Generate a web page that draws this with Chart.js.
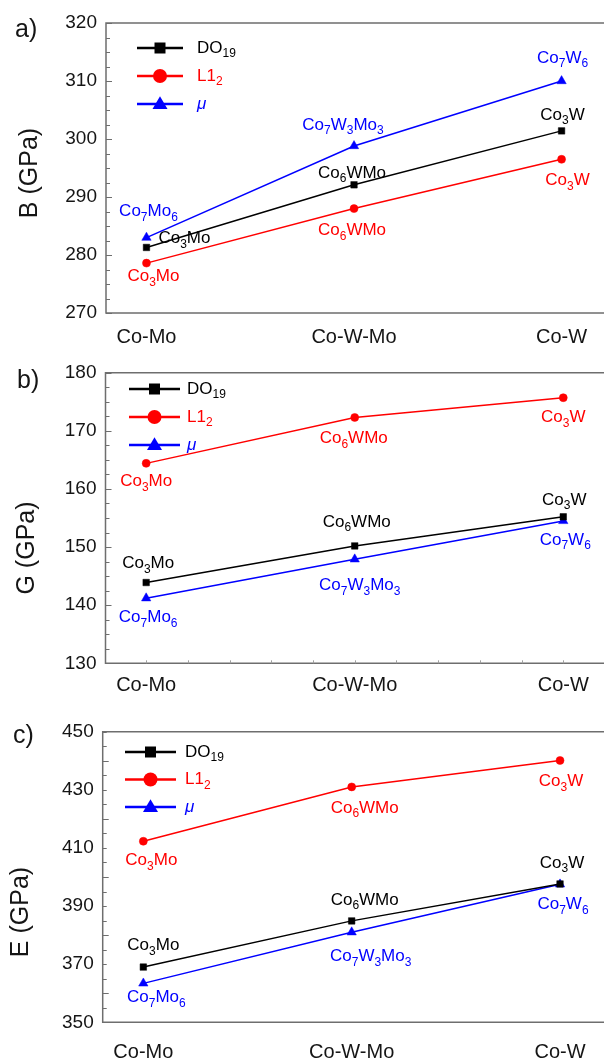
<!DOCTYPE html>
<html>
<head>
<meta charset="utf-8">
<title>Elastic moduli of Co-Mo / Co-W-Mo / Co-W phases</title>
<script src="https://cdn.jsdelivr.net/npm/chart.js@4.4.1/dist/chart.umd.min.js"></script>
<style>
  html, body { margin: 0; padding: 0; background: #fff; }
  #wrap { position: relative; width: 604px; height: 1061px; overflow: hidden; }
  canvas { position: absolute; left: 0; }
</style>
</head>
<body>
<div id="wrap">
  <canvas id="chart-b" width="604" height="345" style="top:0px"></canvas>
  <canvas id="chart-g" width="604" height="355" style="top:345px"></canvas>
  <canvas id="chart-e" width="604" height="361" style="top:700px"></canvas>
</div>
<script>
// categories along x and the three phase types
const categories = ['Co-Mo', 'Co-W-Mo', 'Co-W'];
const seriesNames = ['DO_19', 'L1_2', 'μ'];

// bulk modulus B (GPa)
const bulkDO19 = [281.3, 292.1, 301.4];
const bulkL12 = [278.6, 288.0, 296.5];
const bulkMu = [283.0, 298.8, 310.0];
const bulkTicks = [270, 280, 290, 300, 310, 320];

// shear modulus G (GPa)
const shearDO19 = [143.9, 150.2, 155.2];
const shearL12 = [164.4, 172.3, 175.7];
const shearMu = [141.2, 147.9, 154.5];
const shearTicks = [130, 140, 150, 160, 170, 180];

// Young's modulus E (GPa)
const youngDO19 = [369.0, 384.9, 397.6];
const youngL12 = [412.3, 431.0, 440.1];
const youngMu = [363.4, 381.0, 397.5];
const youngTicks = [350, 370, 390, 410, 430, 450];

// phase names written next to each point (_n = subscript)
const phaseDO19 = ['Co_3Mo', 'Co_6WMo', 'Co_3W'];
const phaseL12 = ['Co_3Mo', 'Co_6WMo', 'Co_3W'];
const phaseMu = ['Co_7Mo_6', 'Co_7W_3Mo_3', 'Co_7W_6'];

const FONT = '"Liberation Sans", Arial, Helvetica, sans-serif';
const INK = '#151515';
const FRAME = '#6e6e6e';

const seriesStyle = [
  { color: '#000000', point: 'rect', r: 4.6, legend: 11 },
  { color: '#ff0000', point: 'circle', r: 4, legend: 14 },
  { color: '#0000ff', point: 'triangle', r: 5.4, legend: 15 },
];

const panels = [
  {
    id: 'chart-b', letter: 'a)', title: 'B (GPa)',
    values: [bulkDO19, bulkL12, bulkMu], ticks: bulkTicks, minor: 2.5,
    area: { left: 106, top: 23, bottom: 313 }, xMax: 2.176, tickPad: 12, xMinor: false,
    letterPos: [15, 37], titlePos: [30, 173],
    legend: { x0: 137, x1: 183, tx: 197, y0: 48, dy: 28 },
    offsets: [
      [[38, -9], [-2, -12], [1, -16]],
      [[7, 13], [-2, 22], [6, 21]],
      [[2, -26], [-11, -21], [1, -23]],
    ],
  },
  {
    id: 'chart-g', letter: 'b)', title: 'G (GPa)',
    values: [shearDO19, shearL12, shearMu], ticks: shearTicks, minor: 2.5,
    area: { left: 105.5, top: 27.7, bottom: 318.3 }, xMax: 2.167, tickPad: 10, xMinor: true,
    letterPos: [17, 43], titlePos: [27, 203],
    legend: { x0: 129, x1: 180, tx: 187, y0: 44, dy: 28 },
    offsets: [
      [[2, -19], [2, -24], [1, -17]],
      [[0, 18], [-1, 21], [0, 20]],
      [[2, 19], [5, 26], [2, 19]],
    ],
  },
  {
    id: 'chart-e', letter: 'c)', title: 'E (GPa)',
    values: [youngDO19, youngL12, youngMu], ticks: youngTicks, minor: 5,
    area: { left: 102.7, top: 31.7, bottom: 322.3 }, xMax: 2.167, tickPad: 18, xMinor: false,
    letterPos: [13, 43], titlePos: [21, 212],
    legend: { x0: 125, x1: 176, tx: 185, y0: 52, dy: 27.5 },
    offsets: [
      [[10, -22], [13, -21], [2, -21]],
      [[8, 19], [13, 21], [1, 21]],
      [[13, 14], [19, 24], [3, 20]],
    ],
  },
];

const labelsBySeries = [phaseDO19, phaseL12, phaseMu];

// draw text with _n subscripts, centred or left aligned on x
function drawRich(ctx, str, x, y, size, color, align, italic) {
  const parts = str.split(/(_\d+)/).filter(s => s.length);
  const subSize = Math.round(size * 0.68);
  const style = italic ? 'italic ' : '';
  const pieces = parts.map(s => {
    const sub = s[0] === '_';
    const text = sub ? s.slice(1) : s;
    const font = style + (sub ? subSize : size) + 'px ' + FONT;
    ctx.font = font;
    return { text, sub, font, w: ctx.measureText(text).width };
  });
  const total = pieces.reduce((a, p) => a + p.w, 0);
  let cx = align === 'center' ? x - total / 2 : x;
  ctx.fillStyle = color;
  ctx.textAlign = 'left';
  ctx.textBaseline = 'middle';
  pieces.forEach(p => {
    ctx.font = p.font;
    ctx.fillText(p.text, cx, p.sub ? y + size * 0.36 : y);
    cx += p.w;
  });
}

function drawMarker(ctx, kind, x, y, size, color) {
  ctx.fillStyle = color;
  ctx.beginPath();
  if (kind === 'rect') {
    ctx.rect(x - size / 2, y - size / 2, size, size);
  } else if (kind === 'circle') {
    ctx.arc(x, y, size / 2, 0, Math.PI * 2);
  } else {
    const h = size * 0.85;
    ctx.moveTo(x, y - h * 0.6);
    ctx.lineTo(x + size / 2, y + h * 0.4);
    ctx.lineTo(x - size / 2, y + h * 0.4);
    ctx.closePath();
  }
  ctx.fill();
}

function makeDecor(p) {
  return {
    id: 'decor',
    afterDraw(chart) {
      const { ctx, chartArea: a } = chart;
      const xs = chart.scales.x;
      const ys = chart.scales.y;
      const step = p.ticks[1] - p.ticks[0];
      ctx.save();

      // frame (open on the right, like the cropped original)
      ctx.strokeStyle = FRAME;
      ctx.lineWidth = 1.5;
      ctx.beginPath();
      ctx.moveTo(chart.width, a.top);
      ctx.lineTo(a.left, a.top);
      ctx.lineTo(a.left, a.bottom);
      ctx.lineTo(chart.width, a.bottom);
      ctx.stroke();

      // inward y ticks, major and minor
      ctx.lineWidth = 1.2;
      ctx.beginPath();
      for (let v = ys.min; v <= ys.max + 1e-6; v += p.minor) {
        const yy = Math.round(ys.getPixelForValue(v)) + 0.5;
        const major = Math.abs(v / step - Math.round(v / step)) < 1e-6;
        ctx.moveTo(a.left, yy);
        ctx.lineTo(a.left + (major ? 6 : 4), yy);
      }
      ctx.stroke();

      // faint x ticks on panel b
      if (p.xMinor) {
        ctx.strokeStyle = '#a0a0a0';
        ctx.lineWidth = 1;
        ctx.beginPath();
        for (let k = 0; k <= 11; k++) {
          const xx = Math.round(xs.getPixelForValue(k * 0.2)) + 0.5;
          ctx.moveTo(xx, a.bottom);
          ctx.lineTo(xx, a.bottom - 3);
        }
        ctx.stroke();
      }

      // phase labels next to points
      p.values.forEach((vals, s) => {
        vals.forEach((v, i) => {
          const [dx, dy] = p.offsets[s][i];
          const px = xs.getPixelForValue(i);
          const py = ys.getPixelForValue(v);
          drawRich(ctx, labelsBySeries[s][i], px + dx, py + dy, 17, seriesStyle[s].color, 'center');
        });
      });

      // legend
      const L = p.legend;
      seriesStyle.forEach((st, s) => {
        const y = L.y0 + s * L.dy;
        ctx.strokeStyle = st.color;
        ctx.lineWidth = 2.5;
        ctx.beginPath();
        ctx.moveTo(L.x0, y);
        ctx.lineTo(L.x1, y);
        ctx.stroke();
        drawMarker(ctx, st.point, (L.x0 + L.x1) / 2, y, st.legend, st.color);
        drawRich(ctx, seriesNames[s], L.tx, y, 17, st.color, 'left', s === 2);
      });

      // panel letter and y title
      ctx.fillStyle = INK;
      ctx.font = '25px ' + FONT;
      ctx.textAlign = 'left';
      ctx.textBaseline = 'alphabetic';
      ctx.fillText(p.letter, p.letterPos[0], p.letterPos[1]);
      ctx.translate(p.titlePos[0], p.titlePos[1]);
      ctx.rotate(-Math.PI / 2);
      ctx.textAlign = 'center';
      ctx.textBaseline = 'middle';
      ctx.fillText(p.title, 0, 0);
      ctx.restore();
    },
  };
}

panels.forEach(p => {
  const canvas = document.getElementById(p.id);
  const height = canvas.height;
  new Chart(canvas, {
    type: 'line',
    data: {
      datasets: p.values.map((vals, s) => ({
        label: seriesNames[s],
        data: vals.map((v, i) => ({ x: i, y: v })),
        borderColor: seriesStyle[s].color,
        backgroundColor: seriesStyle[s].color,
        pointBackgroundColor: seriesStyle[s].color,
        pointBorderColor: seriesStyle[s].color,
        pointBorderWidth: 0.5,
        pointStyle: seriesStyle[s].point,
        pointRadius: seriesStyle[s].r,
        borderWidth: 1.5,
        tension: 0,
      })),
    },
    options: {
      responsive: false,
      animation: false,
      devicePixelRatio: 1,
      layout: { padding: { top: p.area.top, left: 0, right: 0, bottom: 0 } },
      plugins: { legend: { display: false }, tooltip: { enabled: false } },
      scales: {
        x: {
          type: 'linear',
          min: -0.195,
          max: p.xMax,
          grid: { display: false, drawTicks: false },
          border: { display: false },
          afterBuildTicks: scale => { scale.ticks = categories.map((c, i) => ({ value: i })); },
          afterFit: scale => { scale.height = height - p.area.bottom; },
          ticks: {
            callback: v => categories[v],
            font: { size: 20, family: FONT },
            color: INK,
            padding: p.tickPad,
            maxRotation: 0,
            autoSkip: false,
          },
        },
        y: {
          min: p.ticks[0],
          max: p.ticks[p.ticks.length - 1],
          grid: { display: false, drawTicks: false },
          border: { display: false },
          afterFit: scale => { scale.width = p.area.left; },
          ticks: {
            stepSize: p.ticks[1] - p.ticks[0],
            font: { size: 19, family: FONT },
            color: INK,
            padding: 9,
          },
        },
      },
    },
    plugins: [makeDecor(p)],
  });
});
</script>
</body>
</html>
